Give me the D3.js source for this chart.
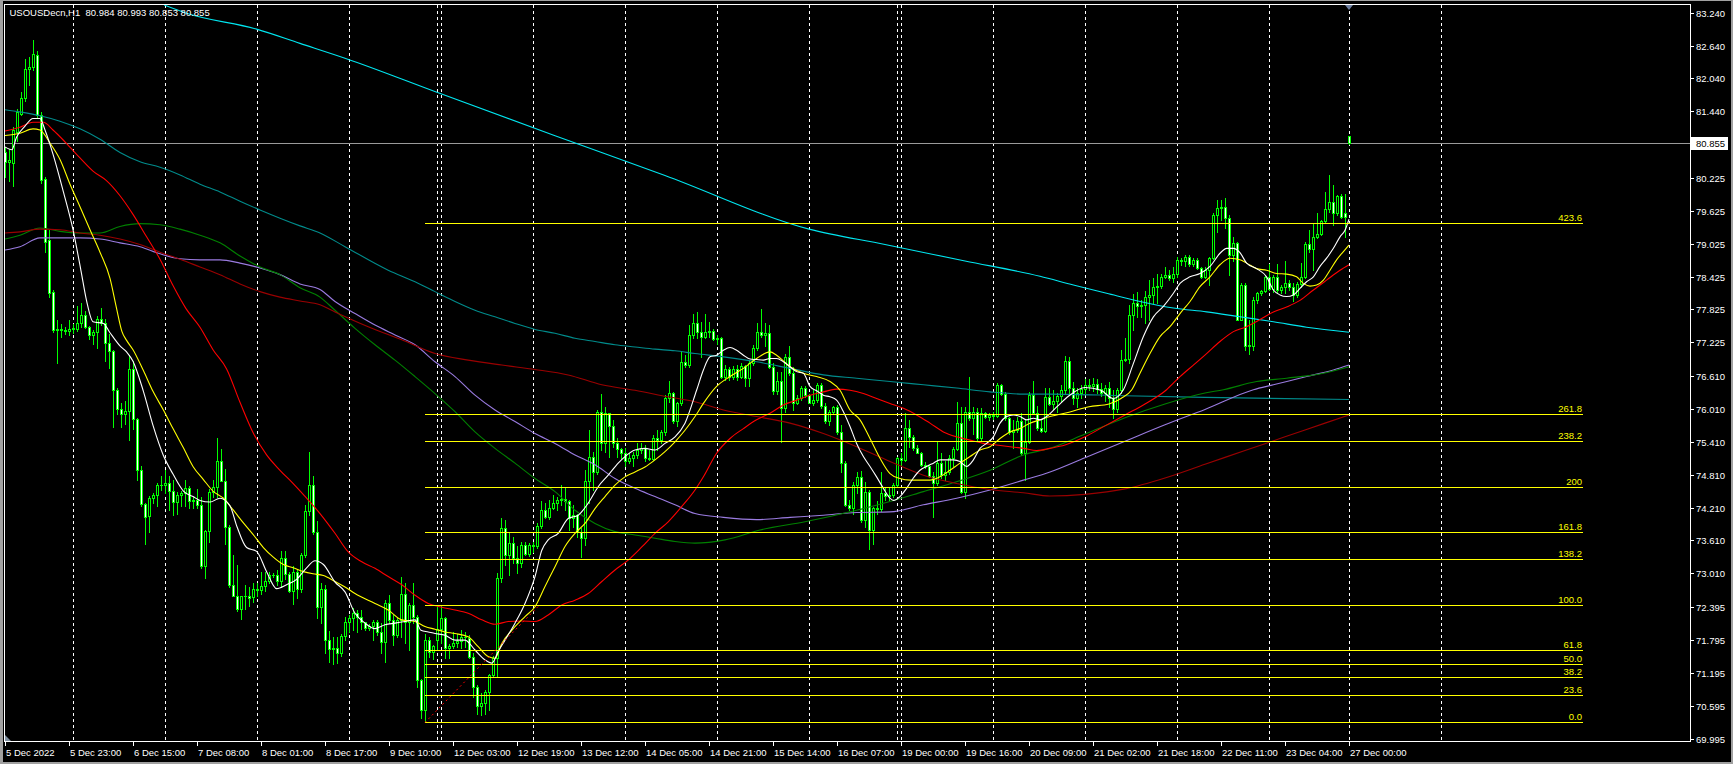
<!DOCTYPE html>
<html><head><meta charset="utf-8">
<script src="https://cdn.jsdelivr.net/npm/d3@7/dist/d3.min.js"></script>
<style>
html,body{margin:0;padding:0;background:#000;overflow:hidden;}
svg{display:block;}
text{font-family:"Liberation Sans",Arial,sans-serif;}
</style></head><body>
<svg id="chart" width="1733" height="764"></svg>
<script>
// ---------------- DATA ----------------
const titleText = "USOUSDecn,H1  80.984 80.993 80.853 80.855";
const priceTicks = [83.240, 82.640, 82.040, 81.440, 80.225, 79.625, 79.025, 78.425, 77.825, 77.225, 76.610, 76.010, 75.410, 74.810, 74.210, 73.610, 73.010, 72.395, 71.795, 71.195, 70.595, 69.995];
const lastPrice = 80.855;
const timeLabels = ["5 Dec 2022","5 Dec 23:00","6 Dec 15:00","7 Dec 08:00","8 Dec 01:00","8 Dec 17:00","9 Dec 10:00","12 Dec 03:00","12 Dec 19:00","13 Dec 12:00","14 Dec 05:00","14 Dec 21:00","15 Dec 14:00","16 Dec 07:00","19 Dec 00:00","19 Dec 16:00","20 Dec 09:00","21 Dec 02:00","21 Dec 18:00","22 Dec 11:00","23 Dec 04:00","27 Dec 00:00"];
const timeLabelBars = [0,16,32,48,64,80,96,112,128,144,160,176,192,208,224,240,256,272,288,304,320,336];
const gridBars = [17,40,63,86,108,109,132,155,178,201,223,224,247,270,293,316,336,359];
const fibLevels = [0, 23.6, 38.2, 50, 61.8, 100, 138.2, 161.8, 200, 238.2, 261.8, 423.6];
const fibLabels = ["0.0","23.6","38.2","50.0","61.8","100.0","138.2","161.8","200","238.2","261.8","423.6"];
const fibLow = 70.287, fibHigh = 72.44;
const fibStartBar = 105, fibEndBar = 394.5, fibTrendEndBar = 133.75;

// [open, high, low, close] per H1 bar
const bars = [
[80.70,80.79,80.25,80.52],[80.52,80.76,80.16,80.56],[80.50,81.16,80.07,81.10],[81.07,81.49,80.89,81.43],[81.40,81.80,81.37,81.68],
[81.68,82.39,81.62,82.22],[82.22,82.44,81.92,82.24],[82.24,82.74,82.20,82.49],[82.47,82.55,81.34,81.37],[81.37,81.43,80.13,80.19],
[80.20,80.25,78.88,79.06],[79.09,79.30,78.06,78.12],[78.14,78.18,77.42,77.45],[77.45,77.64,76.85,77.46],[77.46,77.56,77.33,77.45],
[77.45,77.50,77.38,77.43],[77.43,77.64,77.36,77.47],[77.47,77.56,77.40,77.49],[77.47,77.88,77.43,77.58],[77.58,77.95,77.51,77.73],
[77.73,77.80,77.48,77.51],[77.50,77.52,77.29,77.36],[77.36,77.45,77.19,77.41],[77.41,77.71,77.13,77.65],[77.65,77.86,77.55,77.58],
[77.57,77.65,76.88,77.21],[77.21,77.37,76.75,77.07],[77.07,77.09,75.68,76.35],[76.35,76.40,75.92,76.00],[76.00,76.12,75.68,75.92],
[75.92,76.16,75.73,75.98],[75.98,76.99,75.44,76.73],[76.73,76.88,75.65,75.82],[75.82,75.85,74.72,74.89],[74.89,74.96,74.24,74.27],
[74.27,74.30,73.55,74.03],[74.05,74.42,73.76,74.38],[74.38,74.48,74.30,74.44],[74.44,74.65,74.24,74.62],[74.62,74.79,74.53,74.62],
[74.62,74.89,74.48,74.66],[74.66,74.79,74.17,74.51],[74.51,74.72,74.07,74.31],[74.31,74.50,74.10,74.44],[74.44,74.51,74.24,74.47],
[74.47,74.72,74.23,74.56],[74.56,74.60,74.20,74.33],[74.33,74.41,74.20,74.34],[74.34,74.55,74.20,74.26],[74.26,74.41,73.11,73.14],
[73.14,73.80,72.93,73.79],[73.79,74.55,73.59,74.49],[74.49,74.72,74.41,74.58],[74.58,75.48,74.41,75.06],[75.06,75.27,74.69,74.70],
[74.70,74.92,73.55,73.86],[73.86,73.90,72.76,72.80],[72.80,73.35,72.59,72.59],[72.59,73.17,72.32,72.35],[72.35,72.60,72.18,72.59],
[72.59,72.80,72.35,72.59],[72.59,72.76,72.42,72.56],[72.57,72.83,72.49,72.73],[72.73,72.83,72.60,72.71],[72.71,73.04,72.63,72.78],
[72.78,73.04,72.69,72.87],[72.87,73.04,72.84,72.98],[72.98,73.01,72.94,72.97],[72.97,73.07,72.80,72.87],[72.87,73.42,72.76,73.28],
[73.28,73.42,72.90,73.00],[73.00,73.04,72.66,72.69],[72.69,73.14,72.45,73.04],[73.04,73.07,72.56,72.73],[72.73,73.38,72.66,73.35],
[73.35,74.26,73.31,74.15],[74.15,75.23,74.07,74.62],[74.62,74.79,73.72,73.76],[73.76,73.96,72.20,72.40],[72.40,72.83,72.10,72.73],
[72.73,72.80,71.55,71.80],[71.80,71.95,71.40,71.62],[71.62,71.85,71.35,71.64],[71.64,71.85,71.37,71.56],[71.56,71.90,71.50,71.87],
[71.87,72.22,71.79,72.13],[72.13,72.25,71.94,72.19],[72.19,72.37,71.97,72.29],[72.29,72.34,71.94,72.22],[72.22,72.34,72.00,72.13],
[72.13,72.13,71.97,72.02],[72.02,72.08,71.98,72.05],[72.05,72.16,71.79,72.13],[72.13,72.16,71.88,71.94],[71.94,72.10,71.55,71.76],
[71.76,72.52,71.40,72.46],[72.46,72.61,72.10,72.16],[72.16,72.25,71.70,71.88],[71.88,72.20,71.85,72.16],[72.16,72.95,71.85,72.64],
[72.64,72.83,71.73,72.13],[72.13,72.47,71.61,72.43],[72.43,72.83,72.10,72.22],[72.22,72.24,70.94,71.06],[71.06,71.08,70.36,70.51],
[70.51,71.91,70.29,71.80],[71.80,71.85,71.49,71.58],[71.58,71.70,71.45,71.68],[71.79,72.43,71.61,72.00],[72.00,72.43,71.73,72.19],
[72.19,72.22,71.46,71.64],[71.64,71.72,71.46,71.68],[71.68,71.94,71.64,71.73],[71.73,71.91,71.67,71.78],[71.78,71.97,71.64,71.85],
[71.85,71.94,71.67,71.85],[71.82,71.88,71.46,71.49],[71.49,71.55,70.76,70.94],[70.94,70.98,70.45,70.58],[70.58,70.82,70.42,70.64],
[70.64,70.88,70.45,70.85],[70.85,71.18,70.51,71.15],[71.15,71.50,71.12,71.46],[71.46,73.01,71.12,72.92],[72.92,74.01,72.86,73.83],
[73.83,73.98,73.16,73.34],[73.34,73.74,72.98,73.56],[73.56,73.68,73.19,73.28],[73.28,73.50,73.01,73.19],[73.19,73.59,73.13,73.53],
[73.53,73.59,73.34,73.37],[73.37,73.56,73.33,73.53],[73.53,73.59,73.40,73.50],[73.50,73.92,73.47,73.87],[73.87,74.32,73.83,74.16],
[74.16,74.29,74.01,74.04],[74.04,74.35,74.00,74.21],[74.21,74.44,74.19,74.29],[74.29,74.41,74.16,74.34],[74.34,74.62,74.26,74.36],
[74.36,74.56,74.16,74.32],[74.33,74.35,73.80,74.01],[74.01,74.25,73.86,74.07],[74.07,74.10,73.68,73.77],[73.77,73.83,73.31,73.65],
[73.65,74.89,73.53,74.70],[74.70,75.62,74.29,75.14],[75.14,75.23,74.53,74.86],[74.86,75.99,74.83,75.96],[75.96,76.29,75.26,75.38],
[75.38,76.05,75.23,75.93],[75.93,75.93,75.14,75.70],[75.70,75.81,75.32,75.38],[75.38,75.47,75.14,75.27],[75.27,75.29,75.11,75.21],
[75.21,75.29,74.96,75.05],[75.05,75.20,75.02,75.11],[75.11,75.23,74.96,75.17],[75.17,75.38,75.11,75.26],[75.26,75.38,75.20,75.30],
[75.29,75.35,75.05,75.11],[75.11,75.26,75.08,75.10],[75.10,75.53,75.07,75.47],[75.47,75.63,75.26,75.44],[75.44,75.63,75.38,75.58],
[75.58,76.26,75.53,76.20],[76.20,76.51,76.14,76.30],[76.30,76.31,75.75,75.78],[75.78,76.13,75.69,76.11],[76.11,77.05,76.08,76.87],
[76.87,76.99,76.78,76.81],[76.81,77.54,76.78,77.36],[77.36,77.75,77.30,77.57],[77.57,77.77,77.30,77.42],[77.42,77.60,76.96,77.33],
[77.33,77.75,77.30,77.42],[77.42,77.60,77.33,77.44],[77.44,77.46,77.27,77.28],[77.28,77.35,77.20,77.30],[77.30,77.33,76.57,76.60],
[76.60,76.81,76.54,76.74],[76.74,76.78,76.54,76.60],[76.60,76.80,76.55,76.74],[76.74,76.81,76.54,76.60],[76.60,76.84,76.58,76.79],
[76.79,76.81,76.42,76.57],[76.57,76.90,76.42,76.84],[76.84,77.18,76.81,77.12],[77.12,77.57,77.09,77.41],[77.41,77.83,77.33,77.36],
[77.36,77.57,77.15,77.39],[77.39,77.54,76.75,76.77],[76.77,76.84,76.29,76.34],[76.34,76.69,76.29,76.51],[76.51,76.69,75.41,76.02],
[76.02,77.02,75.96,76.95],[76.95,77.15,76.63,76.67],[76.67,76.78,75.99,76.11],[76.11,76.26,76.10,76.20],[76.20,76.42,76.17,76.39],
[76.39,76.42,76.23,76.26],[76.26,76.29,76.11,76.12],[76.12,76.36,76.08,76.18],[76.18,76.49,76.14,76.45],[76.45,76.48,76.02,76.06],
[76.06,76.11,75.75,75.78],[75.78,75.99,75.72,75.96],[75.96,76.06,75.93,76.04],[76.04,76.08,75.56,75.59],[75.59,75.71,74.86,75.03],
[75.03,75.05,74.23,74.26],[74.26,74.35,74.17,74.21],[74.21,74.68,74.10,74.62],[74.62,74.85,74.47,74.76],[74.76,74.87,73.95,73.98],
[73.98,74.68,73.86,74.50],[74.50,74.53,73.45,73.80],[73.80,74.22,73.55,74.20],[74.20,74.32,74.10,74.18],[74.18,74.86,74.15,74.48],
[74.48,74.59,74.35,74.42],[74.42,74.56,74.35,74.44],[74.44,74.65,74.40,74.62],[74.62,75.14,74.59,75.11],[75.11,75.20,74.99,75.07],
[75.07,75.93,75.05,75.66],[75.66,75.81,75.31,75.50],[75.50,75.53,75.26,75.29],[75.29,75.35,75.20,75.21],[75.21,75.23,74.96,74.99],
[74.99,75.04,74.93,74.96],[74.96,74.99,74.77,74.79],[74.79,74.86,74.04,74.65],[74.65,75.41,74.62,75.02],[75.02,75.20,74.74,74.80],
[74.80,75.05,74.71,74.86],[74.86,75.17,74.83,75.11],[75.11,75.32,74.96,75.27],[75.27,76.14,75.26,75.76],[75.76,76.05,74.47,74.50],
[74.50,76.05,74.38,75.96],[75.96,76.60,75.81,75.84],[75.84,76.05,75.56,75.96],[75.96,76.02,75.44,75.47],[75.47,76.02,75.45,75.93],
[75.93,75.96,75.84,75.86],[75.86,75.93,75.81,75.90],[75.90,75.95,75.83,75.88],[75.88,76.48,75.87,76.45],[76.45,76.47,76.26,76.28],
[76.28,76.32,75.81,75.84],[75.84,75.87,75.56,75.59],[75.59,75.81,75.29,75.62],[75.62,75.87,75.59,75.78],[75.78,75.93,75.17,75.20],
[75.20,75.81,74.71,75.41],[75.41,76.32,75.38,76.26],[76.26,76.51,75.93,75.93],[75.93,76.06,75.62,75.66],[75.66,75.81,75.59,75.61],
[75.61,76.39,75.59,76.23],[76.23,76.39,76.08,76.10],[76.10,76.35,76.00,76.15],[76.15,76.30,75.95,76.25],[76.25,76.45,76.15,76.35],
[76.35,76.98,76.30,76.88],[76.88,76.95,76.30,76.40],[76.40,76.50,76.10,76.20],[76.20,76.40,76.05,76.30],[76.30,76.45,76.20,76.38],
[76.38,76.55,76.30,76.45],[76.45,76.55,76.35,76.42],[76.42,76.58,76.33,76.47],[76.47,76.55,76.30,76.38],[76.38,76.48,76.25,76.30],
[76.30,76.45,76.15,76.40],[76.40,76.50,76.05,76.20],[76.20,76.35,75.85,76.00],[76.00,76.40,75.95,76.35],[76.35,77.08,76.30,76.90],
[76.90,77.30,76.88,76.92],[76.92,77.90,76.85,77.72],[77.72,78.10,77.45,77.94],[77.94,78.15,77.69,77.88],[77.88,78.00,77.69,77.90],
[77.90,78.17,77.57,78.06],[78.06,78.36,77.63,78.09],[78.09,78.39,77.94,78.24],[78.24,78.48,77.94,78.26],[78.26,78.48,78.21,78.42],
[78.42,78.60,78.39,78.45],[78.45,78.54,78.36,78.39],[78.39,78.60,78.33,78.47],[78.47,78.79,78.42,78.73],[78.73,78.76,78.64,78.70],
[78.70,78.82,78.61,78.79],[78.79,78.82,78.61,78.65],[78.65,78.76,78.61,78.73],[78.73,78.76,78.56,78.58],[78.58,78.60,78.39,78.41],
[78.41,78.60,78.39,78.54],[78.54,78.79,78.27,78.76],[78.76,79.58,78.74,79.55],[79.55,79.82,79.24,79.67],[79.67,79.82,79.46,79.69],
[79.69,79.85,79.31,79.49],[79.49,79.55,78.45,78.82],[78.82,79.15,78.70,79.03],[79.03,79.06,77.63,77.64],[77.64,78.30,77.63,78.27],
[78.27,78.30,77.09,77.15],[77.15,77.63,77.02,77.18],[77.16,78.06,77.08,78.00],[78.00,78.15,77.94,78.12],[78.12,78.18,78.09,78.16],
[78.16,78.45,78.14,78.41],[78.41,78.66,78.18,78.19],[78.19,78.45,78.15,78.42],[78.42,78.66,78.15,78.18],[78.18,78.27,78.12,78.23],
[78.23,78.70,78.12,78.30],[78.30,78.36,78.18,78.24],[78.24,78.30,77.97,78.09],[78.09,78.33,78.06,78.29],[78.29,78.67,78.24,78.41],
[78.41,79.06,78.39,79.02],[79.02,79.27,78.88,78.92],[78.92,79.40,78.54,79.15],[79.15,79.58,79.12,79.21],[79.21,79.46,79.18,79.43],
[79.43,79.97,79.40,79.65],[79.65,80.28,79.61,79.79],[79.79,80.10,79.37,79.59],[79.59,79.91,79.55,79.90],[79.90,79.94,79.49,79.52],
[79.59,79.94,79.15,79.52],[80.984,80.993,80.853,80.855]
];

// moving-average lines: [bar index, price]
const maWhite = [[0,80.79],[1.7,80.74],[2.9,80.97],[5,81.17],[7,81.31],[8.75,81.31],[10,81.10],[12,80.66],[14.6,79.97],[17,79.28],[19,78.53],[20.4,77.98],[22,77.60],[24.6,77.57],[26.25,77.40],[28.75,77.16],[30.4,77.05],[32,76.88],[34.6,76.33],[37,75.71],[39.6,75.16],[42,74.82],[44.6,74.51],[47,74.41],[48.75,74.34],[51.25,74.31],[53.75,74.38],[56.25,74.24],[58,73.86],[60.4,73.48],[62.9,73.41],[65.4,73.04],[67.9,72.73],[70.4,72.80],[72.9,72.90],[75.4,73.11],[77.5,73.24],[79.6,73.17],[82.5,72.85],[85,72.67],[87.5,72.28],[90,72.10],[92.5,72.00],[95,72.07],[97.5,72.10],[100,72.13],[102.5,72.16],[104,71.97],[105.8,71.94],[107.5,71.91],[110,71.88],[112.5,71.79],[115,71.79],[117.5,71.61],[120,71.43],[121.7,71.37],[123.3,71.58],[125,71.79],[127.5,72.10],[130,72.46],[132.5,72.95],[134.2,73.43],[135.8,73.62],[138.3,73.74],[140.8,74.01],[143.3,74.07],[145.8,74.29],[148.3,74.59],[150.8,74.80],[153.3,75.02],[155,75.14],[157.5,75.26],[160,75.29],[162.5,75.26],[165,75.38],[167.5,75.50],[170,75.75],[172.9,76.35],[174.6,76.72],[176.25,76.96],[177.9,76.99],[179.6,77.08],[181.25,77.13],[182.9,77.08],[184.6,76.99],[186.25,76.92],[187.9,76.91],[189.6,76.90],[191.25,76.93],[192.9,76.93],[194.6,76.87],[196.25,76.78],[197.9,76.69],[199.6,76.66],[201.25,76.42],[202.9,76.34],[204.6,76.26],[206.25,76.23],[207.9,76.17],[209.6,75.96],[211.25,75.69],[212.9,75.38],[214.6,75.14],[216.25,74.96],[217.9,74.77],[219.6,74.56],[221.25,74.38],[222.1,74.34],[223.75,74.41],[225.4,74.56],[227,74.74],[228.75,74.89],[230.4,74.96],[232.1,75.02],[233.75,75.08],[235.4,75.08],[237.1,75.08],[238.75,75.05],[240.4,74.96],[242.1,75.08],[243.75,75.29],[245.4,75.38],[247.1,75.50],[248.75,75.75],[250.4,75.87],[252.1,75.90],[253.75,75.87],[255.4,75.81],[257.1,75.84],[258.75,75.81],[260.4,75.87],[263,76.05],[266,76.25],[270,76.40],[274,76.35],[277,76.20],[279.6,76.36],[282.1,76.84],[284.6,77.33],[287.1,77.69],[289.6,77.88],[292.1,78.12],[293.75,78.30],[296.25,78.42],[298.75,78.48],[301.25,78.61],[303.75,78.85],[305.4,78.94],[307.1,78.94],[308.75,78.86],[310.4,78.67],[312.9,78.57],[315.4,78.42],[317.1,78.18],[318.75,78.09],[320.4,78.06],[322.1,78.09],[323.75,78.21],[325.4,78.33],[327.1,78.42],[328.75,78.61],[330.4,78.76],[332.1,78.94],[333.75,79.15],[335,79.27],[336,79.47]];
const maYellow = [[0,81.00],[3.75,81.04],[7,81.12],[8.75,81.10],[11.25,80.86],[13.75,80.56],[16.25,80.11],[18.75,79.70],[21.25,79.28],[23.75,78.87],[26.25,78.39],[27.9,77.84],[29.2,77.43],[30.4,77.26],[32,77.09],[34.6,76.71],[37,76.33],[39.6,75.99],[42,75.65],[44.6,75.30],[47,74.96],[49.6,74.72],[52,74.51],[54.6,74.38],[57,74.17],[59.6,73.93],[62,73.72],[64.6,73.48],[67,73.31],[69.6,73.17],[72,73.11],[74.6,73.04],[77,73.00],[79.6,72.97],[82.5,72.86],[85,72.76],[87.5,72.64],[92.5,72.46],[95.8,72.34],[99.2,72.16],[102.5,72.13],[105,72.04],[107.5,71.99],[110,71.94],[112.5,71.91],[115.8,71.85],[118.3,71.67],[120.8,71.49],[122.5,71.46],[124.2,71.73],[126.7,71.97],[130,72.22],[132.5,72.40],[135,72.77],[137.5,73.13],[140,73.50],[142.5,73.74],[145,73.92],[147.5,74.19],[150,74.41],[152.5,74.62],[155,74.77],[157.5,74.86],[160,74.95],[162.5,75.08],[165,75.23],[167.5,75.41],[170,75.62],[172.5,75.87],[174.6,76.11],[177.9,76.42],[181.25,76.60],[184.6,76.75],[187.9,76.93],[191.25,77.05],[192.9,76.99],[196.25,76.78],[199.6,76.66],[202.9,76.60],[206.25,76.51],[208.75,76.35],[211.25,75.99],[213.75,75.81],[216.25,75.47],[218.75,75.11],[221.25,74.83],[223.75,74.74],[226.25,74.71],[228.75,74.71],[231.25,74.71],[233.75,74.77],[236.25,74.89],[238.75,75.02],[241.25,75.14],[243.75,75.26],[246.25,75.32],[248.75,75.47],[251.25,75.59],[253.75,75.65],[256.25,75.75],[258.75,75.81],[261.25,75.87],[266,75.95],[271,76.05],[276,76.10],[279,76.20],[281.7,76.36],[283.75,76.66],[286.25,77.02],[288.75,77.33],[291.25,77.51],[293.75,77.75],[296.25,77.97],[298.75,78.24],[301.25,78.42],[303.75,78.64],[306.25,78.76],[308.75,78.73],[310.4,78.67],[312.9,78.57],[315.4,78.54],[317.9,78.48],[320.4,78.47],[322.9,78.42],[324.6,78.30],[326.25,78.25],[327.9,78.27],[329.6,78.36],[331.25,78.54],[332.9,78.73],[334.6,78.88],[336,79.00]];
const maRed = [[0,81.08],[3.75,81.15],[7,81.24],[9.6,81.24],[12,81.10],[15.3,80.86],[18.75,80.59],[22,80.35],[25.3,80.18],[28.75,79.90],[32,79.56],[35.4,79.15],[38.75,78.74],[42,78.26],[45.25,77.84],[48.75,77.50],[52,77.09],[55.4,76.74],[58.75,76.13],[62,75.58],[65.4,75.17],[68.75,74.89],[72,74.65],[75.4,74.38],[78.75,74.10],[82.5,73.74],[85.8,73.40],[89.2,73.22],[92.5,73.10],[95.8,72.95],[99.2,72.80],[102.5,72.61],[105.8,72.46],[109.2,72.39],[112.5,72.34],[115.8,72.28],[119.2,72.16],[122.5,72.08],[125.8,72.13],[129.2,72.14],[132.5,72.13],[135.8,72.25],[139.2,72.43],[142.5,72.52],[145.8,72.64],[149.2,72.86],[152.5,73.07],[155.8,73.25],[159.2,73.49],[162.5,73.74],[165.8,73.95],[169.2,74.23],[172.5,74.53],[174.6,74.77],[177.9,75.20],[181.25,75.47],[184.6,75.65],[187.9,75.81],[191.25,75.93],[194.6,76.08],[197.9,76.17],[201.25,76.26],[204.6,76.32],[207.9,76.37],[211.25,76.35],[214.6,76.29],[217.9,76.20],[221.25,76.11],[224.6,76.02],[227.9,75.90],[231.25,75.75],[234.6,75.59],[237.9,75.50],[241.25,75.44],[244.6,75.38],[247.9,75.35],[251.25,75.32],[254.6,75.29],[257.9,75.25],[261.25,75.29],[265,75.35],[270,75.50],[275,75.70],[280,75.90],[285,76.10],[290.4,76.36],[293.75,76.60],[297.1,76.81],[300.4,77.02],[303.75,77.24],[307.1,77.42],[310.4,77.51],[313.75,77.64],[317.1,77.78],[320.4,77.87],[323.75,77.99],[327.1,78.18],[330.4,78.36],[333.75,78.54],[336,78.64]];
const maDarkRed = [[0,79.22],[3.75,79.24],[8.75,79.29],[13.75,79.28],[18.75,79.22],[23.75,79.18],[28.75,79.11],[33.75,79.01],[38.75,78.87],[43.75,78.74],[48.75,78.60],[53.75,78.46],[58.75,78.29],[63.75,78.15],[68.75,78.05],[73.75,77.98],[78.75,77.91],[82.5,77.78],[90.8,77.51],[99.2,77.27],[107.5,77.02],[115.8,76.90],[124.2,76.81],[132.5,76.73],[140.8,76.63],[149.2,76.45],[157.5,76.35],[165.8,76.23],[172.5,76.14],[179.6,75.99],[187.9,75.87],[196.25,75.75],[204.6,75.56],[212.9,75.32],[221.25,75.05],[229.6,74.80],[237.9,74.65],[246.25,74.54],[254.6,74.48],[261.25,74.42],[270,74.45],[280,74.55],[290,74.75],[300,75.00],[310,75.25],[320,75.50],[330,75.75],[336,75.90]];
const maGreen = [[0,79.11],[3.75,79.18],[8.75,79.31],[13.75,79.25],[18.75,79.22],[23.75,79.22],[28.75,79.34],[33.75,79.39],[38.75,79.37],[43.75,79.29],[48.75,79.18],[53.75,79.04],[58.75,78.80],[63.75,78.60],[68.75,78.46],[73.75,78.22],[78.75,78.05],[82.5,77.81],[87.5,77.48],[92.5,77.18],[97.5,76.90],[102.5,76.60],[107.5,76.29],[112.5,75.96],[117.5,75.59],[122.5,75.29],[127.5,75.02],[132.5,74.74],[137.5,74.50],[142.5,74.16],[147.5,73.92],[152.5,73.77],[157.5,73.71],[162.5,73.65],[167.5,73.59],[172.5,73.56],[180,73.62],[188.75,73.80],[200,73.95],[212.9,74.16],[221.25,74.32],[229.6,74.50],[237.9,74.68],[246.25,74.89],[254.6,75.17],[261.25,75.29],[270,75.55],[280,75.85],[290,76.10],[300,76.30],[304.6,76.36],[312.9,76.51],[320.4,76.57],[329.6,76.66],[336,76.78]];
const maLavender = [[0,78.91],[3.75,78.97],[8.75,79.13],[13.75,79.13],[18.75,79.13],[23.75,79.11],[28.75,79.04],[33.75,78.97],[38.75,78.84],[43.75,78.75],[48.75,78.73],[53.75,78.73],[58.75,78.67],[63.75,78.58],[68.75,78.46],[73.75,78.29],[78.75,78.19],[82.5,77.97],[87.5,77.75],[92.5,77.54],[97.5,77.36],[102.5,77.18],[107.5,76.87],[112.5,76.60],[117.5,76.26],[122.5,75.99],[127.5,75.78],[132.5,75.56],[137.5,75.38],[142.5,75.17],[147.5,74.99],[152.5,74.74],[157.5,74.56],[162.5,74.41],[167.5,74.26],[172.5,74.10],[179.6,74.03],[187.9,73.99],[196.25,74.03],[204.6,74.07],[212.9,74.12],[221.25,74.13],[229.6,74.26],[237.9,74.38],[246.25,74.53],[254.6,74.71],[261.25,74.86],[270,75.12],[280,75.42],[290,75.72],[300,76.00],[312.1,76.36],[317.1,76.45],[325.4,76.60],[332.1,76.72],[336,76.81]];
const maTeal = [[0,81.47],[3.75,81.43],[8.75,81.36],[13.75,81.26],[18.75,81.12],[23.75,80.93],[28.75,80.69],[33.75,80.52],[38.75,80.42],[43.75,80.28],[48.75,80.11],[53.75,79.97],[58.75,79.80],[63.75,79.64],[68.75,79.49],[73.75,79.35],[78.75,79.22],[85,78.97],[95.8,78.54],[102.5,78.33],[107.5,78.15],[112.5,77.97],[117.5,77.81],[122.5,77.69],[127.5,77.57],[132.5,77.46],[137.5,77.39],[142.5,77.30],[147.5,77.24],[152.5,77.18],[157.5,77.14],[162.5,77.10],[167.5,77.07],[172.5,77.02],[179.6,76.96],[187.9,76.87],[196.25,76.75],[204.6,76.63],[212.9,76.57],[221.25,76.51],[229.6,76.45],[237.9,76.39],[246.25,76.32],[254.6,76.28],[261.25,76.28],[280,76.25],[300,76.22],[336,76.18]];
const maCyan = [[39.8,83.38],[45.4,83.23],[62.9,82.94],[73.75,82.68],[85,82.41],[109,81.76],[137,81.01],[165,80.27],[201,79.29],[220,79.01],[240,78.71],[258.75,78.43],[267.1,78.27],[275.4,78.12],[283.75,77.97],[292.1,77.85],[300.4,77.78],[308.75,77.69],[317.1,77.60],[325.4,77.50],[336,77.41]];

// ---------------- DRAW ----------------
const W = 1733, H = 764;
const plot = {left: 4.5, right: 1690.5, top: 4.5, bottom: 741.5};
const svg = d3.select("#chart");
const xs = d3.scaleLinear().domain([0, 336]).range([5, 1349]);
const ys = d3.scaleLinear().domain([69.995, 83.240]).range([738.5, 12.7]);
const py = v => Math.round(ys(v));

svg.append("rect").attr("width", W).attr("height", H).attr("fill", "#000");

const defs = svg.append("defs");
defs.append("clipPath").attr("id", "clip").append("rect")
  .attr("x", 5).attr("y", 5).attr("width", 1685).attr("height", 736);

// window borders
svg.append("rect").attr("x",0).attr("y",0).attr("width",3).attr("height",H).attr("fill","#a0a0a0");
svg.append("rect").attr("x",0).attr("y",0).attr("width",W).attr("height",1).attr("fill","#a0a0a0");
svg.append("rect").attr("x",W-2).attr("y",0).attr("width",2).attr("height",H).attr("fill","#a0a0a0");
svg.append("rect").attr("x",0).attr("y",H-2).attr("width",W).attr("height",2).attr("fill","#a0a0a0");

const plotG = svg.append("g").attr("clip-path", "url(#clip)");

// vertical grid (day separators)
plotG.selectAll("line.grid").data(gridBars).join("line")
  .attr("x1", d => Math.round(xs(d)) + 0.5).attr("x2", d => Math.round(xs(d)) + 0.5)
  .attr("y1", 5).attr("y2", 741)
  .attr("stroke", "#ffffff").attr("stroke-width", 1).attr("stroke-dasharray", "3,3")
  .attr("shape-rendering", "crispEdges");

// last price line
plotG.append("line")
  .attr("x1", 4).attr("x2", 1690).attr("y1", py(lastPrice) + 0.5).attr("y2", py(lastPrice) + 0.5)
  .attr("stroke", "#9a9a9a").attr("stroke-width", 1).attr("shape-rendering", "crispEdges");

// candles
const candleData = bars.map((d, i) => ({i, o: d[0], h: d[1], l: d[2], c: d[3]}));
const cg = plotG.append("g").attr("shape-rendering", "crispEdges");
cg.selectAll("rect.wick").data(candleData).join("rect")
  .attr("x", d => Math.round(xs(d.i))).attr("width", 1)
  .attr("y", d => py(Math.max(d.h, d.o, d.c)))
  .attr("height", d => py(Math.min(d.l, d.o, d.c)) - py(Math.max(d.h, d.o, d.c)) + 1)
  .attr("fill", "#00ff00");
cg.selectAll("rect.body").data(candleData).join("rect")
  .attr("x", d => Math.round(xs(d.i)) - 1).attr("width", 3)
  .attr("y", d => py(Math.max(d.o, d.c)))
  .attr("height", d => py(Math.min(d.o, d.c)) - py(Math.max(d.o, d.c)) + 1)
  .attr("fill", "#00ff00");
cg.selectAll("rect.fill").data(candleData.filter(d => py(Math.min(d.o, d.c)) - py(Math.max(d.o, d.c)) >= 2)).join("rect")
  .attr("x", d => Math.round(xs(d.i))).attr("width", 1)
  .attr("y", d => py(Math.max(d.o, d.c)) + 1)
  .attr("height", d => py(Math.min(d.o, d.c)) - py(Math.max(d.o, d.c)) - 1)
  .attr("fill", d => d.c < d.o ? "#ffffff" : "#000000");

// moving averages
const line = d3.line().x(d => xs(d[0])).y(d => ys(d[1])).curve(d3.curveMonotoneX);
const maSeries = [
  {data: maCyan, color: "#00e6f0"},
  {data: maTeal, color: "#008b8b"},
  {data: maLavender, color: "#9a7be0"},
  {data: maGreen, color: "#008000"},
  {data: maDarkRed, color: "#9a0000"},
  {data: maRed, color: "#ff0000"},
  {data: maYellow, color: "#ffff00"},
  {data: maWhite, color: "#ffffff"}
];
plotG.selectAll("path.ma").data(maSeries).join("path")
  .attr("d", d => line(d.data)).attr("fill", "none")
  .attr("stroke", d => d.color).attr("stroke-width", 1.1);

// Fibonacci object
const fibVal = lv => fibLow + (fibHigh - fibLow) * lv / 100;
const fibG = plotG.append("g");
fibG.selectAll("line.fib").data(fibLevels).join("line")
  .attr("x1", Math.round(xs(fibStartBar))).attr("x2", Math.round(xs(fibEndBar)))
  .attr("y1", d => py(fibVal(d)) + 0.5).attr("y2", d => py(fibVal(d)) + 0.5)
  .attr("stroke", "#ffff00").attr("stroke-width", 1).attr("shape-rendering", "crispEdges");
fibG.selectAll("text.fib").data(fibLevels).join("text")
  .attr("x", Math.round(xs(fibEndBar)) - 1).attr("y", d => py(fibVal(d)) - 2)
  .attr("text-anchor", "end").attr("font-size", "9.5px").attr("fill", "#ffff00")
  .text((d, i) => fibLabels[i]);
fibG.append("line")
  .attr("x1", xs(fibStartBar)).attr("y1", ys(fibLow))
  .attr("x2", xs(fibTrendEndBar)).attr("y2", ys(fibHigh))
  .attr("stroke", "#ff0000").attr("stroke-width", 1).attr("stroke-dasharray", "2,3");

// chart shift marker
svg.append("path").attr("d", `M${xs(336)-4},5 L${xs(336)+4},5 L${xs(336)},10 Z`).attr("fill", "#6c7ea0");
svg.append("path").attr("d", "M5,735 L5,741 L11,741 Z").attr("fill", "#8090a0");

// frame
svg.append("rect").attr("x", plot.left).attr("y", plot.top)
  .attr("width", plot.right - plot.left).attr("height", plot.bottom - plot.top)
  .attr("fill", "none").attr("stroke", "#ffffff").attr("stroke-width", 1).attr("shape-rendering", "crispEdges");

// price axis
const pa = svg.append("g");
pa.selectAll("line.pt").data(priceTicks).join("line")
  .attr("x1", 1690).attr("x2", 1694).attr("y1", d => py(d) + 0.5).attr("y2", d => py(d) + 0.5)
  .attr("stroke", "#ffffff").attr("shape-rendering", "crispEdges");
pa.selectAll("text.pt").data(priceTicks).join("text")
  .attr("x", 1696).attr("y", d => py(d) + 3.5)
  .attr("font-size", "9.5px").attr("fill", "#ffffff")
  .text(d => d.toFixed(3));
pa.append("rect").attr("x", 1691).attr("y", py(lastPrice) - 6).attr("width", 37).attr("height", 13).attr("fill", "#ffffff");
pa.append("text").attr("x", 1696).attr("y", py(lastPrice) + 3.5)
  .attr("font-size", "9.5px").attr("fill", "#000000").text(lastPrice.toFixed(3));

// time axis
const ta = svg.append("g");
ta.selectAll("line.tt").data(timeLabelBars).join("line")
  .attr("x1", d => Math.round(xs(d)) + 0.5).attr("x2", d => Math.round(xs(d)) + 0.5)
  .attr("y1", 741).attr("y2", 746).attr("stroke", "#ffffff").attr("shape-rendering", "crispEdges");
ta.selectAll("text.tt").data(timeLabelBars).join("text")
  .attr("x", d => Math.round(xs(d)) + 1).attr("y", 756)
  .attr("font-size", "9.5px").attr("fill", "#ffffff")
  .text((d, i) => timeLabels[i]);

// title
svg.append("text").attr("x", 9.5).attr("y", 16).attr("font-size", "9.5px").attr("fill", "#ffffff")
  .attr("xml:space", "preserve").style("white-space", "pre").text(titleText);
</script>
</body></html>
